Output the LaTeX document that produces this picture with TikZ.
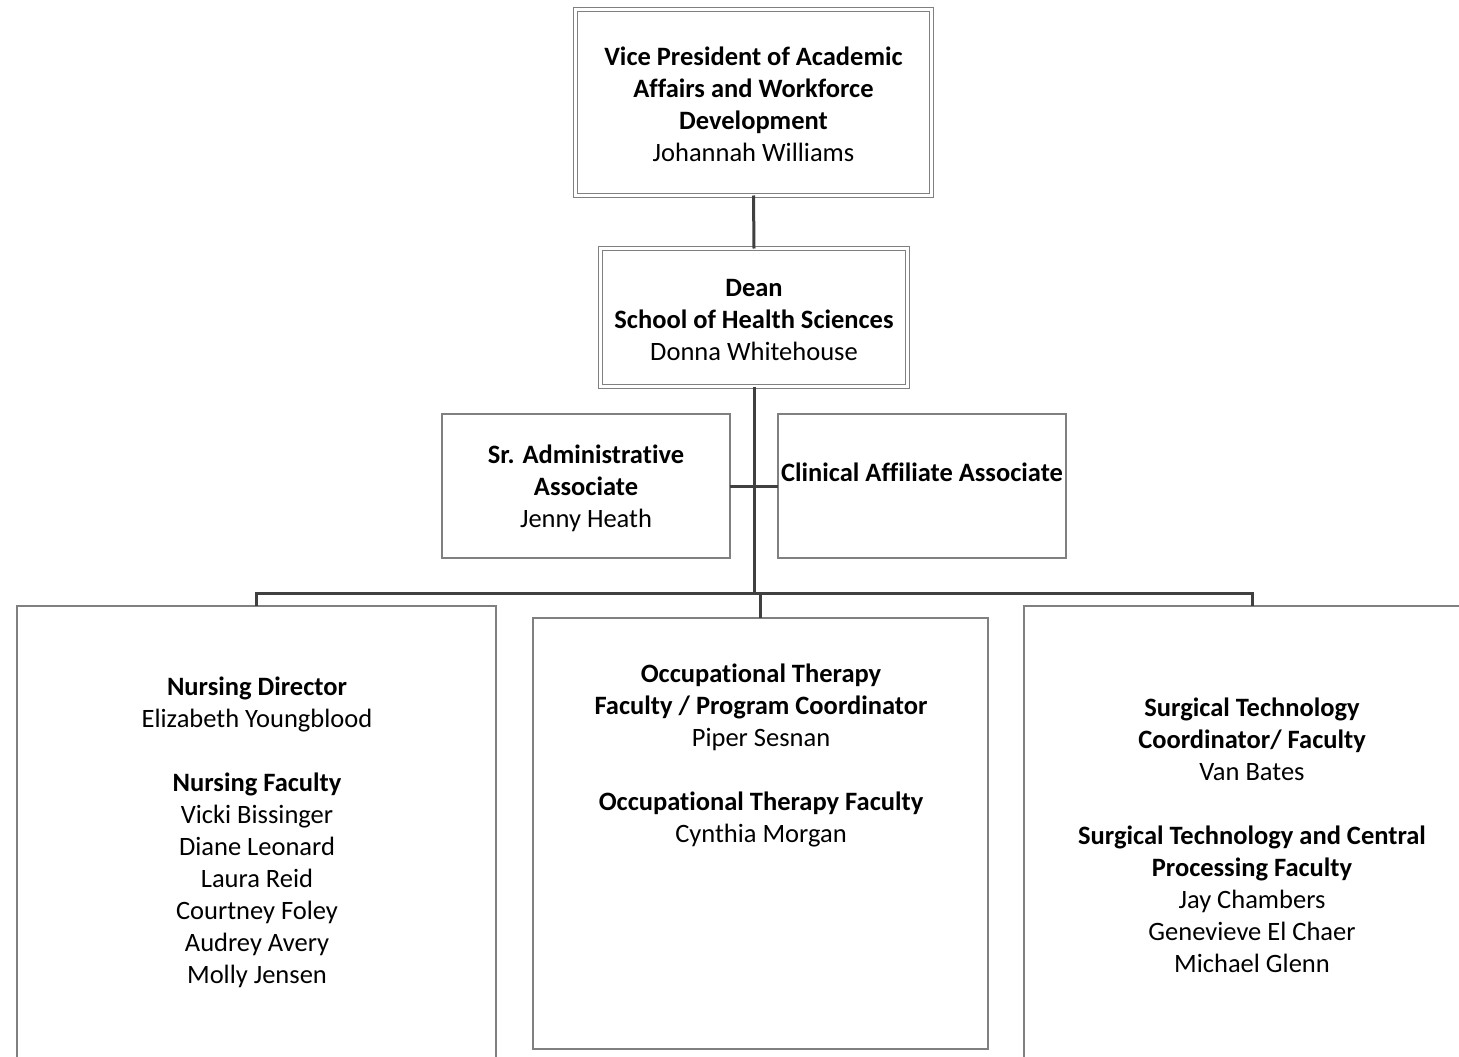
\documentclass[tikz,border=0pt]{standalone}
\usepackage{fontspec}
\setmainfont[Ligatures={NoCommon,NoRequired,NoContextual},Contextuals={NoAlternate}]{Carlito}
\definecolor{boxgray}{HTML}{808080}
\definecolor{conngray}{HTML}{404040}
\begin{document}
\begin{tikzpicture}[x=1pt,y=-1pt,
  box/.style={draw=boxgray,line width=1.3pt,inner sep=0pt,outer sep=0pt,fill=white},
  dbox/.style={draw=boxgray,line width=1.1pt,double=white,double distance=3.4pt,inner sep=0pt,outer sep=0pt},
  conn/.style={draw=conngray,line width=3pt},
  txt/.style={align=center,font=\fontsize{26.5}{32}\selectfont,inner sep=0pt}]
\useasboundingbox (0,0) rectangle (1459,1057);
\clip (0,0) rectangle (1459,1057);
\fill[white] (0,0) rectangle (1459,1057);
% boxes
\node[dbox,minimum width=356,minimum height=186] (vp) at (753.5,102.5) {};
\node[dbox,minimum width=307,minimum height=138] (dean) at (754,317.5) {};
\node[box,minimum width=288,minimum height=144] (sr) at (586,486) {};
\node[box,minimum width=288,minimum height=144] (clin) at (922,486) {};
\node[box,minimum width=479,minimum height=494] (left) at (256.5,853) {};
\node[box,minimum width=455,minimum height=431] (mid) at (760.5,833.5) {};
\node[box,minimum width=456,minimum height=494] (right) at (1252,853) {};
% connectors
\coordinate (b) at (754,593);
\draw[conn] (vp.south) -- (dean.north);
\draw[conn] (dean.south) -- (b);
\draw[conn] (sr.east) -- (clin.west);
\draw[conn] (left.north) |- (b) -| (right.north);
\draw[conn] (b) -| (mid.north);
% texts
\node[txt] (tvp) at (753.5,104) {\textbf{Vice President of Academic}\\\textbf{Affairs and Workforce}\\\textbf{Development}\\Johannah Williams};
\node[txt] (tdean) at (754,320) {\textbf{Dean}\\\textbf{School of Health Sciences}\\Donna Whitehouse};
\node[txt] (tsr) at (586,488) {\textbf{Sr. Administrative}\\\textbf{Associate}\\Jenny Heath};
\node[txt] (tclin) at (922,472) {\textbf{Clinical Affiliate Associate}};
\node[txt] (tleft) at (257,832) {\textbf{Nursing Director}\\Elizabeth Youngblood\\[32pt]\textbf{Nursing Faculty}\\Vicki Bissinger\\Diane Leonard\\Laura Reid\\Courtney Foley\\Audrey Avery\\Molly Jensen};
\node[txt] (tmid) at (761,755) {\textbf{Occupational Therapy}\\\textbf{Faculty / Program Coordinator}\\Piper Sesnan\\[32pt]\textbf{Occupational Therapy Faculty}\\Cynthia Morgan};
\node[txt] (tright) at (1252,835) {\textbf{Surgical Technology}\\\textbf{Coordinator/ Faculty}\\Van Bates\\[32pt]\textbf{Surgical Technology and Central}\\\textbf{Processing Faculty}\\Jay Chambers\\Genevieve El Chaer\\Michael Glenn};
\end{tikzpicture}
\end{document}
